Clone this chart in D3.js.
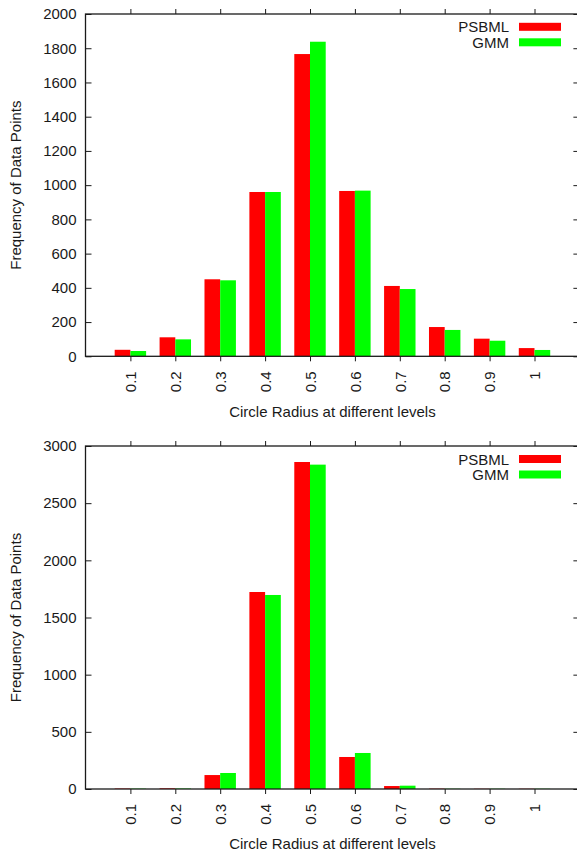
<!DOCTYPE html>
<html>
<head>
<meta charset="utf-8">
<script src="https://cdn.jsdelivr.net/npm/d3@7/dist/d3.min.js"></script>
<style>
  html, body { margin: 0; padding: 0; background: #fff; }
  svg { display: block; }
  text { font-family: "Liberation Sans", Arial, Helvetica, sans-serif; fill: #1a1a1a; }
</style>
</head>
<body>
<svg id="chart" width="577" height="852"></svg>
<script>
// Radius levels on the x axis
const radii = ["0.1", "0.2", "0.3", "0.4", "0.5", "0.6", "0.7", "0.8", "0.9", "1"];
const seriesNames = ["PSBML", "GMM"];
const seriesColors = ["#ff0000", "#00ff00"];

// Upper panel: frequencies per radius level
const topPSBML = [38, 111, 450, 960, 1766, 966, 411, 171, 103, 48];
const topGMM   = [31, 99, 444, 960, 1838, 968, 393, 154, 91, 37];
const topTicks = [0, 200, 400, 600, 800, 1000, 1200, 1400, 1600, 1800, 2000];

// Lower panel: frequencies per radius level
const bottomPSBML = [4, 6, 122, 1723, 2860, 280, 26, 3, 2, 2];
const bottomGMM   = [3, 4, 140, 1697, 2837, 315, 29, 2, 2, 2];
const bottomTicks = [0, 500, 1000, 1500, 2000, 2500, 3000];

const xLabel = "Circle Radius at different levels";
const yLabel = "Frequency of Data Points";

const svg = d3.select("#chart");
const fontSize = "15px";

function drawPanel(cfg) {
  const { top, bottom, left, right, yMax, ticks, values, titleY, legendY } = cfg;
  const g = svg.append("g");
  const ink = "#1a1a1a";

  // category positions 1..10 on a 0..11 index axis
  const x = d3.scaleLinear().domain([0, radii.length + 1]).range([left, right]);
  const y = d3.scaleLinear().domain([0, yMax]).range([bottom, top]);
  const step = x(1) - x(0);
  const barW = step * 0.35;

  // bars
  values.forEach((vals, s) => {
    g.append("g").selectAll("rect")
      .data(vals)
      .join("rect")
      .attr("x", (d, i) => x(i + 1) + (s === 0 ? -barW : 0))
      .attr("y", d => y(d))
      .attr("width", barW)
      .attr("height", d => y(0) - y(d))
      .attr("fill", seriesColors[s]);
  });

  // left y axis, ticks pointing inward
  const yAxisL = d3.axisLeft(y).tickValues(ticks).tickSize(-6).tickPadding(9).tickFormat(d3.format("d"));
  const gl = g.append("g").attr("transform", `translate(${left},0)`).call(yAxisL);
  // right mirror, ticks pointing inward
  const yAxisR = d3.axisRight(y).tickValues(ticks).tickSize(-6).tickFormat("");
  const gr = g.append("g").attr("transform", `translate(${right},0)`).call(yAxisR);

  // bottom x axis, ticks pointing outward, labels rotated
  const xAxisB = d3.axisBottom(x).tickValues(d3.range(1, radii.length + 1))
    .tickSize(5).tickFormat(i => radii[i - 1]);
  const gb = g.append("g").attr("transform", `translate(0,${bottom})`).call(xAxisB);
  gb.selectAll(".tick text")
    .attr("transform", "rotate(-90)")
    .attr("text-anchor", "end")
    .attr("x", -15)
    .attr("y", 0)
    .attr("dy", "0.35em");
  // top mirror, ticks pointing outward
  const xAxisT = d3.axisTop(x).tickValues(d3.range(1, radii.length + 1)).tickSize(5).tickFormat("");
  const gt = g.append("g").attr("transform", `translate(0,${top})`).call(xAxisT);

  [gl, gr, gb, gt].forEach(a => {
    a.select(".domain").remove();
    a.selectAll(".tick line").attr("stroke", ink).attr("stroke-width", 1);
    a.selectAll(".tick text").style("font-size", fontSize).attr("fill", ink);
  });

  // frame
  g.append("rect")
    .attr("x", left).attr("y", top)
    .attr("width", right - left).attr("height", bottom - top)
    .attr("fill", "none").attr("stroke", ink).attr("stroke-width", 1.3);

  // axis titles
  g.append("text")
    .attr("x", (left + right) / 2).attr("y", titleY)
    .attr("text-anchor", "middle").style("font-size", fontSize)
    .text(xLabel);
  g.append("text")
    .attr("transform", `translate(21,${(top + bottom) / 2}) rotate(-90)`)
    .attr("text-anchor", "middle").style("font-size", fontSize)
    .text(yLabel);

  // legend
  seriesNames.forEach((name, s) => {
    const cy = legendY + s * 15.5;
    g.append("text")
      .attr("x", 509).attr("y", cy + 5.5)
      .attr("text-anchor", "end").style("font-size", fontSize)
      .text(name);
    g.append("rect")
      .attr("x", 519).attr("y", cy - 4)
      .attr("width", 42).attr("height", 8)
      .attr("fill", seriesColors[s]);
  });
}

drawPanel({
  top: 14, bottom: 356.3, left: 85.5, right: 579.4,
  yMax: 2000, ticks: topTicks, values: [topPSBML, topGMM],
  titleY: 416.5, legendY: 26.8
});

drawPanel({
  top: 446, bottom: 789, left: 85.5, right: 579.4,
  yMax: 3000, ticks: bottomTicks, values: [bottomPSBML, bottomGMM],
  titleY: 849, legendY: 459
});
</script>
</body>
</html>
